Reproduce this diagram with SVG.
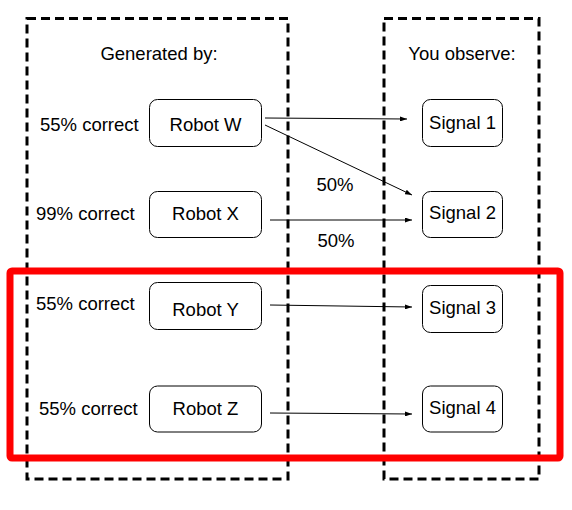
<svg xmlns="http://www.w3.org/2000/svg" width="572" height="510" viewBox="0 0 572 510">
<defs>
<marker id="ah" markerWidth="7" markerHeight="5" refX="7" refY="2.5" orient="auto" markerUnits="userSpaceOnUse">
<path d="M0,0 L7,2.5 L0,5 Z" fill="#000"/>
</marker>
<style>
.t{font-family:"Liberation Sans",Arial,sans-serif;font-size:18.5px;fill:#000}
.c{text-anchor:middle}
.box{fill:#fff;stroke:#000;stroke-width:1}
.dash{fill:none;stroke:#000;stroke-width:3;stroke-dasharray:9 5}
.con{stroke:#000;stroke-width:1;fill:none;marker-end:url(#ah)}
</style>
</defs>
<rect width="572" height="510" fill="#fff"/>
<g id="groups">
<rect class="dash" x="27" y="18.5" width="261" height="460.5"/>
<rect class="dash" x="384" y="18.5" width="155" height="460.5"/>
<text class="t c" x="159" y="60">Generated by:</text>
<text class="t c" x="462" y="60">You observe:</text>
</g>
<g id="connectors">
<line class="con" x1="265" y1="118" x2="407" y2="119"/>
<line class="con" x1="265" y1="125" x2="412" y2="195"/>
<line class="con" x1="270" y1="220" x2="412" y2="220"/>
<line class="con" x1="270" y1="305" x2="412" y2="307"/>
<line class="con" x1="270" y1="413" x2="412" y2="414"/>
<text class="t c" x="335" y="191">50%</text>
<text class="t c" x="336" y="247">50%</text>
</g>
<g id="robotW">
<rect class="box" x="149.5" y="99.5" width="112" height="47" rx="8"/>
<text class="t c" x="205.5" y="131">Robot W</text>
<text class="t" x="40" y="131">55% correct</text>
</g>
<g id="robotX">
<rect class="box" x="149.5" y="191.5" width="112" height="46" rx="8"/>
<text class="t c" x="205.5" y="220">Robot X</text>
<text class="t" x="36" y="220">99% correct</text>
</g>
<g id="robotY">
<rect class="box" x="149.5" y="282.5" width="112" height="47" rx="8"/>
<text class="t c" x="205.5" y="316">Robot Y</text>
<text class="t" x="36" y="310">55% correct</text>
</g>
<g id="robotZ">
<rect class="box" x="149.5" y="386" width="112" height="46" rx="8"/>
<text class="t c" x="205.5" y="415">Robot Z</text>
<text class="t" x="39" y="415">55% correct</text>
</g>
<g id="signal1">
<rect class="box" x="422.5" y="99.5" width="80" height="47" rx="8"/>
<text class="t c" x="462.5" y="129">Signal 1</text>
</g>
<g id="signal2">
<rect class="box" x="422.5" y="191.5" width="80" height="46" rx="8"/>
<text class="t c" x="462.5" y="219">Signal 2</text>
</g>
<g id="signal3">
<rect class="box" x="422.5" y="285.5" width="80" height="47" rx="8"/>
<text class="t c" x="462.5" y="314">Signal 3</text>
</g>
<g id="signal4">
<rect class="box" x="422.5" y="386" width="80" height="46" rx="8"/>
<text class="t c" x="462.5" y="414">Signal 4</text>
</g>
<g id="highlight">
<rect x="10" y="271" width="550" height="187" rx="2" fill="none" stroke="#ff0000" stroke-width="7"/>
</g>
</svg>
